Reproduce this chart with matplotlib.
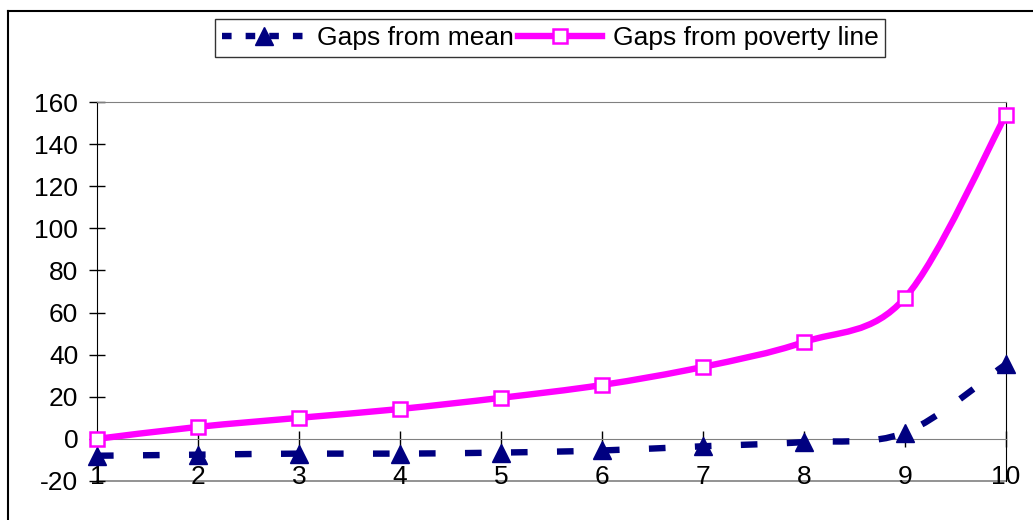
import matplotlib
matplotlib.use("Agg")
import matplotlib.pyplot as plt
from matplotlib.path import Path
from matplotlib.patches import PathPatch
from matplotlib.lines import Line2D

plt.rcParams['font.family'] = ['Liberation Sans', 'DejaVu Sans']
plt.rcParams['axes.unicode_minus'] = False

categories = [1, 2, 3, 4, 5, 6, 7, 8, 9, 10]
gaps_mean = [-8, -7.5, -7, -7, -6.5, -5.5, -3.5, -1.5, 3, 35.5]
gaps_poverty = [0, 5.7, 10, 14.2, 19.5, 25.6, 34.2, 46, 67, 154]
y_ticks = [-20, 0, 20, 40, 60, 80, 100, 120, 140, 160]
series_names = ["Gaps from mean", "Gaps from poverty line"]

NAVY = "#000080"
MAGENTA = "#FF00FF"
FS = 19


def smooth_path(xs, ys):
    # Catmull-Rom style Bezier (Excel "smoothed line") through the data points
    verts = [(xs[0], ys[0])]
    codes = [Path.MOVETO]
    n = len(xs)
    for i in range(n - 1):
        x0, y0 = (xs[i - 1], ys[i - 1]) if i > 0 else (xs[i], ys[i])
        x1, y1 = xs[i], ys[i]
        x2, y2 = xs[i + 1], ys[i + 1]
        x3, y3 = (xs[i + 2], ys[i + 2]) if i + 2 < n else (xs[i + 1], ys[i + 1])
        c1 = (x1 + (x2 - x0) / 6.0, y1 + (y2 - y0) / 6.0)
        c2 = (x2 - (x3 - x1) / 6.0, y2 - (y3 - y1) / 6.0)
        verts += [c1, c2, (x2, y2)]
        codes += [Path.CURVE4] * 3
    return Path(verts, codes)


fig = plt.figure(figsize=(10.33, 5.2), dpi=100)
ax = fig.add_axes([97 / 1033, 1 - 481 / 520, 909 / 1033, 379 / 520])

# figure border (top and left visible)
fig.add_artist(Line2D([8 / 1033, 8 / 1033], [0, 1 - 11 / 520], transform=fig.transFigure,
                      color='black', lw=1.5))
fig.add_artist(Line2D([8 / 1033, 1], [1 - 11 / 520, 1 - 11 / 520], transform=fig.transFigure,
                      color='black', lw=1.5))

# smoothed lines
p1 = PathPatch(smooth_path(categories, gaps_mean), facecolor='none', edgecolor=NAVY,
               lw=4.6, linestyle=(0, (2.6, 4.6)), capstyle='butt', clip_on=False, zorder=3)
ax.add_patch(p1)
p2 = PathPatch(smooth_path(categories, gaps_poverty), facecolor='none', edgecolor=MAGENTA,
               lw=4.6, capstyle='round', joinstyle='round', clip_on=False, zorder=4)
ax.add_patch(p2)

# markers
ax.plot(categories, gaps_mean, linestyle='none', marker='^', markersize=13,
        color=NAVY, clip_on=False, zorder=5)
ax.plot(categories, gaps_poverty, linestyle='none', marker='s', markersize=10.5,
        markerfacecolor='white', markeredgecolor=MAGENTA, markeredgewidth=1.8,
        clip_on=False, zorder=6)

ax.set_xlim(1, 10)
ax.set_ylim(-20, 160)
ax.set_yticks(y_ticks)
ax.set_xticks(categories)
ax.set_xticklabels([str(c) for c in categories])

ax.spines['top'].set_color('#808080')
ax.spines['right'].set_color('black')
ax.spines['left'].set_color('black')
ax.spines['bottom'].set_position(('data', 0))
ax.spines['bottom'].set_color('#808080')
ax.axhline(-20, color='#808080', lw=1.2, zorder=1, clip_on=False)

ax.tick_params(axis='y', direction='inout', length=11, width=1, labelsize=FS, pad=8)
ax.tick_params(axis='x', direction='inout', length=11, width=1, labelsize=FS, pad=13,
               color='black')

# legend
h1 = Line2D([], [], color=NAVY, lw=4.6, linestyle=(0, (1.5, 2.2)), marker='^',
            markersize=13, dash_capstyle='butt')
h2 = Line2D([], [], color=MAGENTA, lw=4.6, marker='s', markersize=10.5,
            markerfacecolor='white', markeredgecolor=MAGENTA, markeredgewidth=1.8)
leg = fig.legend([h1, h2], series_names, loc='center', bbox_to_anchor=(550 / 1033, 1 - 38 / 520),
                 ncol=2, fontsize=FS, frameon=True, fancybox=False, edgecolor='black',
                 handlelength=3.2, handletextpad=0.4, columnspacing=0.15, borderpad=0.25,
                 borderaxespad=0)
leg.get_frame().set_linewidth(1.0)

fig.savefig("out.png", dpi=100, facecolor='white')
